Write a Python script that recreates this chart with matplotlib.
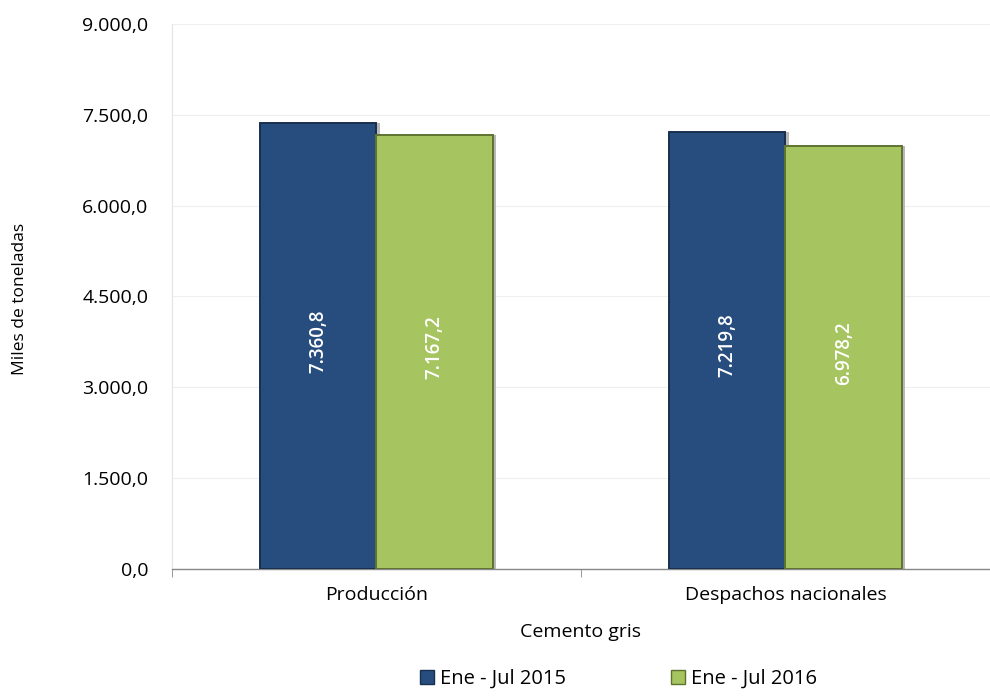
import matplotlib

matplotlib.use("Agg")
import matplotlib.pyplot as plt
from matplotlib.patches import Patch
from matplotlib.ticker import FuncFormatter, FixedLocator

plt.rcParams["font.family"] = ["Open Sans", "DejaVu Sans"]

categories = ["Producción", "Despachos nacionales"]
series_names = ["Ene - Jul 2015", "Ene - Jul 2016"]
values_2015 = [7360.8, 7219.8]
values_2016 = [7167.2, 6978.2]
y_ticks = [0, 1500, 3000, 4500, 6000, 7500, 9000]

BLUE = "#264D7E"
BLUE_EDGE = "#17304F"
GREEN = "#A6C45F"
GREEN_EDGE = "#5E7330"


def es_num(v: float) -> str:
    s = f"{v:,.1f}"
    return s.replace(",", "X").replace(".", ",").replace("X", ".")


fig = plt.figure(figsize=(9.9, 6.96), dpi=100)
ax = fig.add_axes([0.1737, 0.1825, 0.8263, 0.783])

width = 0.285
xs = list(range(len(categories)))
series = [(values_2015, BLUE, BLUE_EDGE, -width / 2), (values_2016, GREEN, GREEN_EDGE, width / 2)]
for vals, col, edge, off in series:
    pos = [x + off for x in xs]
    # soft shadow to the right
    ax.bar([p + 0.008 for p in pos], vals, width, color="#b8b8b8", zorder=2, linewidth=0)
    bars = ax.bar(pos, vals, width, color=col, edgecolor=edge, linewidth=1.4, zorder=3)
    for b, v in zip(bars, vals):
        ax.text(b.get_x() + b.get_width() / 2, v / 2 + 80, es_num(v), rotation=90,
                ha="center", va="center", color="white", fontsize=13.5,
                fontweight="semibold", zorder=4)

ax.set_xlim(-0.493, 1.47)
ax.set_ylim(0, 9000)
ax.yaxis.set_major_locator(FixedLocator(y_ticks))
ax.yaxis.set_major_formatter(FuncFormatter(lambda v, _: es_num(v)))
ax.grid(axis="y", color="#efefef", linewidth=0.8, zorder=0)
ax.set_axisbelow(True)

ax.set_xticks(xs)
ax.set_xticklabels(categories, fontsize=14)
ax.set_xticks([-0.5, 0.5, 1.5], minor=True)
ax.tick_params(axis="x", which="major", length=0, pad=12)
ax.tick_params(axis="x", which="minor", length=6, color="#888888")
ax.tick_params(axis="y", length=0, labelsize=14, pad=17)

for side in ("top", "right"):
    ax.spines[side].set_visible(False)
ax.spines["left"].set_color("#e4e4e4")
ax.spines["left"].set_linewidth(0.8)
ax.spines["bottom"].set_color("#888888")
ax.spines["bottom"].set_linewidth(1.0)

ax.set_xlabel("Cemento gris", fontsize=14, labelpad=14)
fig.text(0.02, 0.57, "Miles de toneladas", rotation=90, ha="center", va="center", fontsize=12.5)

handles = [Patch(facecolor=BLUE, edgecolor=BLUE_EDGE), Patch(facecolor=GREEN, edgecolor=GREEN_EDGE)]
fig.legend(handles, series_names, loc="lower center", bbox_to_anchor=(0.625, -0.016), ncol=2,
           frameon=False, fontsize=14.5, handlelength=0.7, handleheight=0.7, handletextpad=0.3,
           columnspacing=5.2)

fig.savefig("out.png", dpi=100)
